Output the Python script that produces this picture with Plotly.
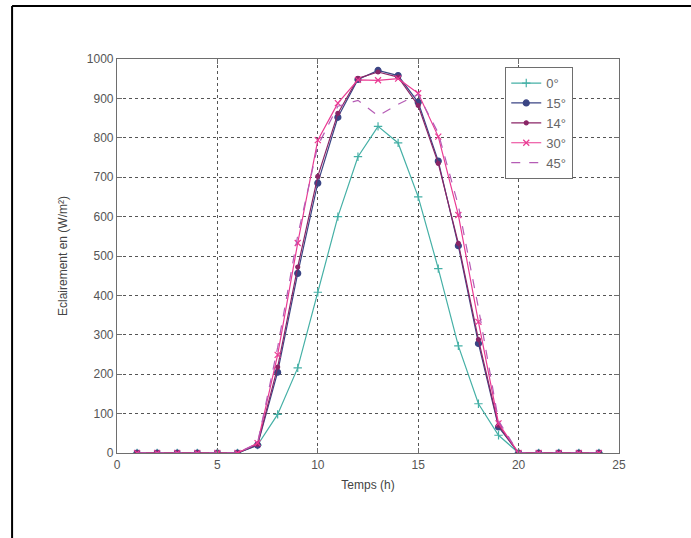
import plotly.graph_objects as go

hours = list(range(1, 25))
series_names = ["0°", "15°", "14°", "30°", "45°"]
v0 = [0, 0, 0, 0, 0, 0, 20, 98, 216, 408, 600, 752, 829, 787, 650, 468, 272, 125, 45, 0, 0, 0, 0, 0]
v15 = [0, 0, 0, 0, 0, 0, 20, 205, 456, 685, 852, 948, 971, 958, 890, 741, 526, 278, 66, 0, 0, 0, 0, 0]
v14 = [0, 0, 0, 0, 0, 0, 22, 218, 472, 702, 862, 951, 967, 954, 882, 735, 532, 288, 70, 0, 0, 0, 0, 0]
v30 = [0, 0, 0, 0, 0, 0, 25, 249, 533, 794, 888, 947, 946, 950, 913, 803, 604, 333, 75, 0, 0, 0, 0, 0]
v45 = [0, 0, 0, 0, 0, 0, 25, 268, 552, 780, 880, 895, 856, 885, 910, 812, 628, 368, 82, 0, 0, 0, 0, 0]

x_ticks = [0, 5, 10, 15, 20, 25]
y_ticks = [0, 100, 200, 300, 400, 500, 600, 700, 800, 900, 1000]

styles = [
    dict(color="#45b0a6", symbol="cross-thin", size=6, dash="solid", mode="lines+markers"),
    dict(color="#3b4584", symbol="circle", size=6, dash="solid", mode="lines+markers"),
    dict(color="#8a2566", symbol="circle", size=4, dash="solid", mode="lines+markers"),
    dict(color="#ea3a93", symbol="x-thin", size=6, dash="solid", mode="lines+markers"),
    dict(color="#b55cb5", symbol="circle", size=1, dash="dash", mode="lines"),
]

fig = go.Figure()
for name, vals, st in zip(series_names, [v0, v15, v14, v30, v45], styles):
    fig.add_trace(go.Scatter(
        x=hours, y=vals, name=name, mode=st["mode"],
        line=dict(color=st["color"], width=1.2, dash=st["dash"]),
        marker=dict(symbol=st["symbol"], size=st["size"], color=st["color"],
                    line=dict(color=st["color"], width=1.2)),
    ))

axis_common = dict(
    showline=True, linecolor="#6e6e6e", linewidth=1.2, mirror="ticks",
    ticks="inside", ticklen=5, tickcolor="#6e6e6e",
    showgrid=True, gridcolor="#555555", griddash="dot", gridwidth=1,
    zeroline=False,
    tickfont=dict(family="Liberation Sans, Arial", size=12, color="#555555"),
)

fig.update_xaxes(range=[0, 25], tickvals=x_ticks,
                 title=dict(text="Temps (h)", font=dict(family="Liberation Sans, Arial", size=12, color="#444444"), standoff=10),
                 **axis_common)
fig.update_yaxes(range=[0, 1000], tickvals=y_ticks,
                 title=dict(text="Eclairement en (W/m²)", font=dict(family="Liberation Sans, Arial", size=12, color="#444444"), standoff=16),
                 **axis_common)

# outer frame (left and top)
fig.add_shape(type="line", xref="paper", yref="paper", x0=-0.209, x1=1.15, y0=1.1345, y1=1.1345,
              line=dict(color="black", width=2))
fig.add_shape(type="line", xref="paper", yref="paper", x0=-0.209, x1=-0.209, y0=1.1345, y1=-0.25,
              line=dict(color="black", width=2))

fig.update_layout(
    width=691, height=538,
    margin=dict(l=117, r=72, t=59, b=85),
    paper_bgcolor="white", plot_bgcolor="white",
    showlegend=True,
    legend=dict(x=0.773, y=0.98, xanchor="left", yanchor="top",
                bgcolor="white", bordercolor="#6e6e6e", borderwidth=1.2,
                font=dict(family="Liberation Sans, Arial", size=13, color="#666666"),
                tracegroupgap=0, itemwidth=30),
)

fig.write_html("out.html", config={"displayModeBar": False},
               post_script="document.body.style.margin='0px';")
